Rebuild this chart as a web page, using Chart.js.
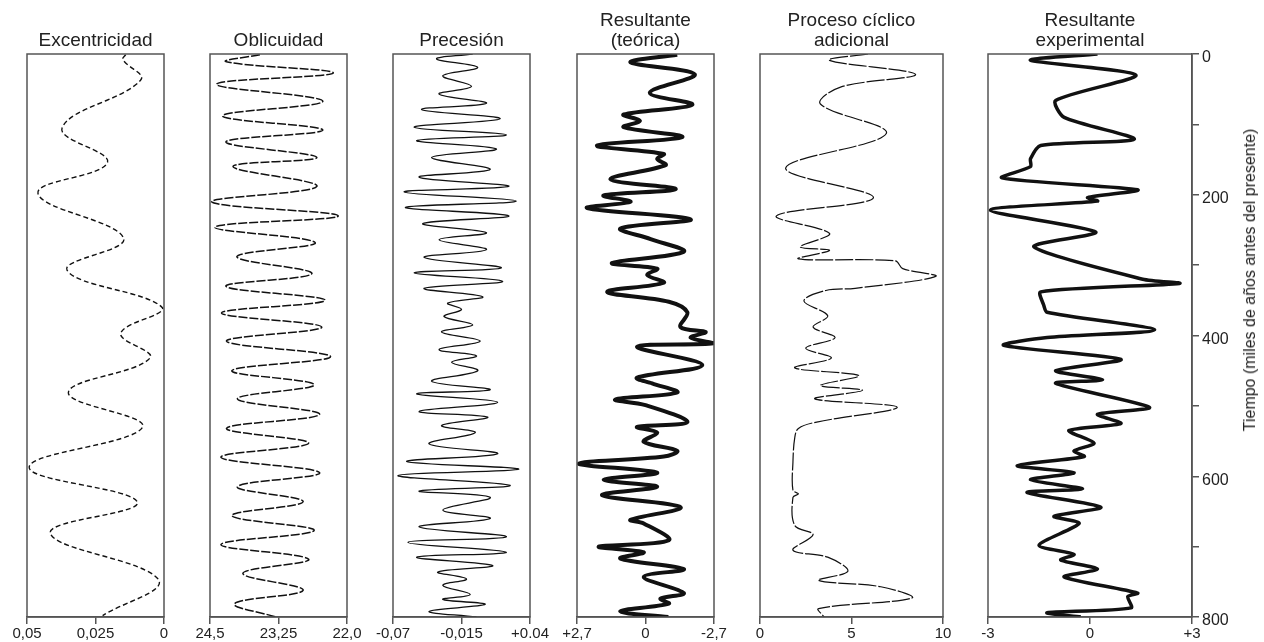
<!DOCTYPE html>
<html>
<head>
<meta charset="utf-8">
<script src="https://cdn.jsdelivr.net/npm/chart.js@4.4.0/dist/chart.umd.min.js"></script>
<style>
body { margin: 0; background: #fff; }
#wrap { position: relative; width: 1264px; height: 642px; overflow: hidden; background: #fff; }
#wrap canvas { position: absolute; top: 0; }
#ytitle {
    position: absolute; left: 1250px; top: 280px;
    transform: translate(-50%, -50%) rotate(-90deg);
    white-space: nowrap; font: 16px "Liberation Sans", Arial, sans-serif; color: #222;
}
</style>
</head>
<body>
<div id="wrap">
    <canvas id="c1"></canvas>
    <canvas id="c2"></canvas>
    <canvas id="c3"></canvas>
    <canvas id="c4"></canvas>
    <canvas id="c5"></canvas>
    <canvas id="c6"></canvas>
    <div id="ytitle">Tiempo (miles de años antes del presente)</div>
</div>
<script>
// ---- datos (tiempo en miles de años, valor de cada curva) ----
const excTime = [1, 8, 37, 105, 154, 198, 262, 307, 361, 397, 432, 481, 530, 587, 637, 681, 748, 798];
const excVal  = [0.0140, 0.0150, 0.0085, 0.0372, 0.0206, 0.0460, 0.0147, 0.0354, 0.0005, 0.0158, 0.0051, 0.0349, 0.0078, 0.0492, 0.0097, 0.0415, 0.0018, 0.0224];

const oblTime = [1, 11, 27, 43, 67, 88, 108, 125, 147, 160, 188, 210, 230, 246, 268, 288, 312, 330, 350, 368, 388, 408, 430, 450, 470, 490, 512, 532, 553, 573, 595, 615, 636, 656, 677, 697, 718, 738, 762, 781, 800];
const oblVal  = [23.59, 24.20, 22.25, 24.38, 22.44, 24.27, 22.44, 24.21, 22.55, 24.08, 22.55, 24.47, 22.16, 24.41, 22.58, 24.01, 22.64, 24.21, 22.40, 24.29, 22.46, 24.20, 22.30, 24.10, 22.60, 24.00, 22.50, 24.20, 22.70, 24.30, 22.50, 24.00, 22.80, 24.10, 22.60, 24.30, 22.70, 23.90, 22.80, 24.05, 23.30];

const preTime = [0, 7, 19, 31, 46, 57, 70, 79, 92, 104, 115, 123, 135, 147, 164, 175, 188, 196, 209, 218, 230, 241, 254, 264, 278, 289, 304, 311, 323, 333, 345, 354, 363, 373, 385, 395, 408, 420, 429, 438, 450, 465, 477, 483, 495, 508, 516, 528, 538, 554, 568, 579, 590, 599, 613, 621, 630, 648, 660, 672, 686, 694, 708, 715, 727, 736, 746, 755, 768, 775, 782, 792, 800];
const preVal  = [-0.006, -0.035, -0.002, -0.030, -0.007, -0.033, 0.005, -0.047, 0.016, -0.053, 0.021, -0.051, 0.013, -0.039, 0.008, -0.049, 0.023, -0.061, 0.029, -0.060, 0.023, -0.046, 0.005, -0.033, 0.005, -0.045, 0.017, -0.053, 0.018, -0.045, 0.002, -0.026, -0.015, -0.029, -0.006, -0.031, 0.000, -0.033, -0.003, -0.023, -0.002, -0.039, 0.008, -0.051, 0.014, -0.049, 0.006, -0.031, -0.004, -0.041, 0.014, -0.059, 0.031, -0.066, 0.024, -0.049, 0.008, -0.030, 0.008, -0.049, 0.021, -0.058, 0.021, -0.051, 0.010, -0.034, -0.011, -0.030, -0.008, -0.030, 0.004, -0.041, -0.003];

const teoTime = [1, 12, 29, 55, 72, 86, 95, 104, 118, 130, 142, 149, 158, 178, 192, 201, 210, 219, 235, 248, 263, 281, 297, 305, 314, 325, 338, 352, 367, 388, 395, 403, 411, 416, 442, 460, 468, 481, 491, 499, 523, 530, 538, 551, 564, 572, 582, 595, 605, 615, 627, 644, 662, 667, 691, 700, 708, 717, 732, 743, 766, 774, 781, 792, 800];
const teoVal  = [-1.25, 0.59, -1.94, -0.17, -1.84, 0.86, 0.22, 0.86, -1.45, 1.91, -0.72, -0.46, -0.79, 1.38, -1.19, 1.65, 0.59, 2.30, -1.78, 0.99, -0.20, -1.51, 1.32, -0.46, -0.07, -0.72, 1.51, -0.92, -1.65, -1.38, -2.37, -1.78, -2.67, 0.33, -2.24, 0.33, -0.26, -1.25, 1.19, 0.00, -1.65, 0.33, -0.46, 0.07, -1.25, -0.72, 2.63, -0.46, 1.65, -0.46, 1.71, -1.38, 0.59, 0.07, -0.92, 1.84, 0.07, 0.99, -1.51, 0.07, -1.51, -0.59, -0.92, 1.00, -0.90];

const proTime = [0, 9, 29, 47, 71, 113, 162, 204, 230, 255, 274, 279, 291, 294, 305, 316, 333, 336, 351, 372, 388, 403, 418, 432, 446, 457, 471, 478, 490, 502, 523, 532, 545, 580, 620, 625, 630, 670, 683, 705, 715, 735, 748, 757, 773, 788, 800];
const proVal  = [5.9, 3.8, 8.5, 4.4, 3.3, 6.9, 1.4, 6.2, 0.9, 3.8, 2.2, 3.8, 2.1, 7.4, 7.8, 9.6, 5.2, 3.6, 2.4, 3.7, 2.9, 4.1, 2.5, 3.9, 1.9, 5.4, 3.3, 5.6, 3.0, 7.5, 3.1, 2.1, 1.9, 1.8, 1.8, 2.1, 1.8, 1.9, 2.9, 1.8, 3.7, 4.8, 3.2, 6.6, 8.3, 3.2, 3.5];

const expTime = [0, 9, 30, 66, 90, 121, 130, 149, 160, 176, 193, 204, 209, 222, 253, 274, 320, 326, 338, 357, 367, 392, 403, 414, 434, 450, 463, 468, 502, 512, 525, 535, 553, 564, 572, 585, 595, 605, 618, 623, 644, 657, 667, 698, 711, 719, 732, 743, 766, 771, 787, 794, 800];
const expVal  = [0.22, -1.75, 1.35, -1.01, -0.76, 1.30, -1.45, -1.75, -1.75, -2.59, 1.40, -0.07, 0.22, -2.93, 0.17, -1.65, 1.55, 2.63, -1.45, -1.36, -1.26, 1.90, -1.26, -2.54, 0.91, -1.01, 0.37, -1.01, 1.75, 0.22, 0.91, -0.62, 0.12, -0.47, -0.17, -2.14, -0.47, -1.75, -0.22, -1.85, 0.32, -1.06, -0.32, -1.50, -0.47, -0.86, 0.22, -0.76, 1.40, 1.11, 1.21, -1.26, -0.27];

// etiquetas de los ejes (de izquierda a derecha)
const excTicks = [0.05, 0.025, 0];     const excTickLabels = ['0,05', '0,025', '0'];
const oblTicks = [24.5, 23.25, 22.0];  const oblTickLabels = ['24,5', '23,25', '22,0'];
const preTicks = [-0.07, -0.015, 0.04]; const preTickLabels = ['-0,07', '-0,015', '+0.04'];
const teoTicks = [2.7, 0, -2.7];       const teoTickLabels = ['+2,7', '0', '-2,7'];
const proTicks = [0, 5, 10];           const proTickLabels = ['0', '5', '10'];
const expTicks = [-3, 0, 3];           const expTickLabels = ['-3', '0', '+3'];
const timeTicks = [0, 100, 200, 300, 400, 500, 600, 700, 800];
const timeTickLabels = ['0', '', '200', '', '400', '', '600', '', '800'];

const FONT = '"Liberation Sans", Arial, sans-serif';
const AXIS = '#555';
const PAD = 22;

// marco de cada panel
const framePlugin = {
    id: 'frame',
    afterDatasetsDraw(chart) {
        const a = chart.chartArea, ctx = chart.ctx;
        ctx.save();
        ctx.strokeStyle = AXIS;
        ctx.lineWidth = 1.5;
        ctx.strokeRect(a.left, a.top, a.right - a.left, a.bottom - a.top);
        ctx.restore();
    }
};

function drawPanel(p) {
    const cv = document.getElementById(p.id);
    const padR = p.yAxis ? 72 : PAD;
    cv.width = p.width + PAD + padR;
    cv.height = 642;
    cv.style.left = (p.left - PAD) + 'px';

    const pts = p.time.map((t, i) => ({x: p.values[i], y: t}));
    const lo = Math.min(...p.ticks), hi = Math.max(...p.ticks);

    const yScale = p.yAxis ? {
        type: 'linear', position: 'right', min: 0, max: 800, reverse: true,
        afterBuildTicks: s => { s.ticks = timeTicks.map(v => ({value: v})); },
        afterFit: s => { s.width = 72; },
        ticks: { callback: (v, i) => timeTickLabels[i], autoSkip: false, padding: 3, labelOffset: 4,
                 font: {family: FONT, size: 16}, color: '#222' },
        grid: { drawOnChartArea: false, tickLength: 7, color: AXIS, lineWidth: 1.5 },
        border: { color: AXIS, width: 1.5 }
    } : { type: 'linear', min: 0, max: 800, reverse: true, display: false };

    new Chart(cv, {
        type: 'scatter',
        data: {
            datasets: [{
                data: pts, showLine: true, pointRadius: 0,
                borderColor: '#111', borderWidth: p.lw, borderDash: p.dash,
                tension: p.tension, fill: false
            }]
        },
        options: {
            responsive: false, animation: false,
            layout: { autoPadding: false, padding: {left: PAD, right: p.yAxis ? 0 : PAD, top: 0, bottom: 0} },
            plugins: {
                legend: { display: false },
                tooltip: { enabled: false },
                title: {
                    display: true, text: p.title, fullSize: false, color: '#222',
                    font: {family: FONT, size: 19, weight: 'normal', lineHeight: 20 / 19},
                    padding: {top: 11, bottom: 3}
                }
            },
            scales: {
                x: {
                    type: 'linear', min: lo, max: hi, reverse: p.reverse,
                    afterBuildTicks: s => { s.ticks = p.ticks.map(v => ({value: v})); },
                    afterFit: s => { s.height = 25; },
                    ticks: { callback: (v, i) => p.labels[i], autoSkip: false, maxRotation: 0, padding: 1,
                             font: {family: FONT, size: 15}, color: '#222' },
                    grid: { drawOnChartArea: false, tickLength: 7, color: AXIS, lineWidth: 1.5 },
                    border: { color: AXIS, width: 1.5 }
                },
                y: yScale
            }
        },
        plugins: [framePlugin]
    });
}

drawPanel({id: 'c1', left: 27, width: 137, title: ['', 'Excentricidad'], time: excTime, values: excVal,
    ticks: excTicks, labels: excTickLabels, reverse: true, lw: 1.4, dash: [5, 3], tension: 0.4});
drawPanel({id: 'c2', left: 210, width: 137, title: ['', 'Oblicuidad'], time: oblTime, values: oblVal,
    ticks: oblTicks, labels: oblTickLabels, reverse: true, lw: 1.5, dash: [9, 2], tension: 0.4});
drawPanel({id: 'c3', left: 393, width: 137, title: ['', 'Precesión'], time: preTime, values: preVal,
    ticks: preTicks, labels: preTickLabels, reverse: false, lw: 1.3, dash: [], tension: 0.4});
drawPanel({id: 'c4', left: 577, width: 137, title: ['Resultante', '(teórica)'], time: teoTime, values: teoVal,
    ticks: teoTicks, labels: teoTickLabels, reverse: true, lw: 4, dash: [], tension: 0.35});
drawPanel({id: 'c5', left: 760, width: 183, title: ['Proceso cíclico', 'adicional'], time: proTime, values: proVal,
    ticks: proTicks, labels: proTickLabels, reverse: false, lw: 1.2, dash: [18, 2], tension: 0.35});
drawPanel({id: 'c6', left: 988, width: 204, title: ['Resultante', 'experimental'], time: expTime, values: expVal,
    ticks: expTicks, labels: expTickLabels, reverse: false, lw: 3.5, dash: [], tension: 0.25, yAxis: true});
</script>
</body>
</html>
